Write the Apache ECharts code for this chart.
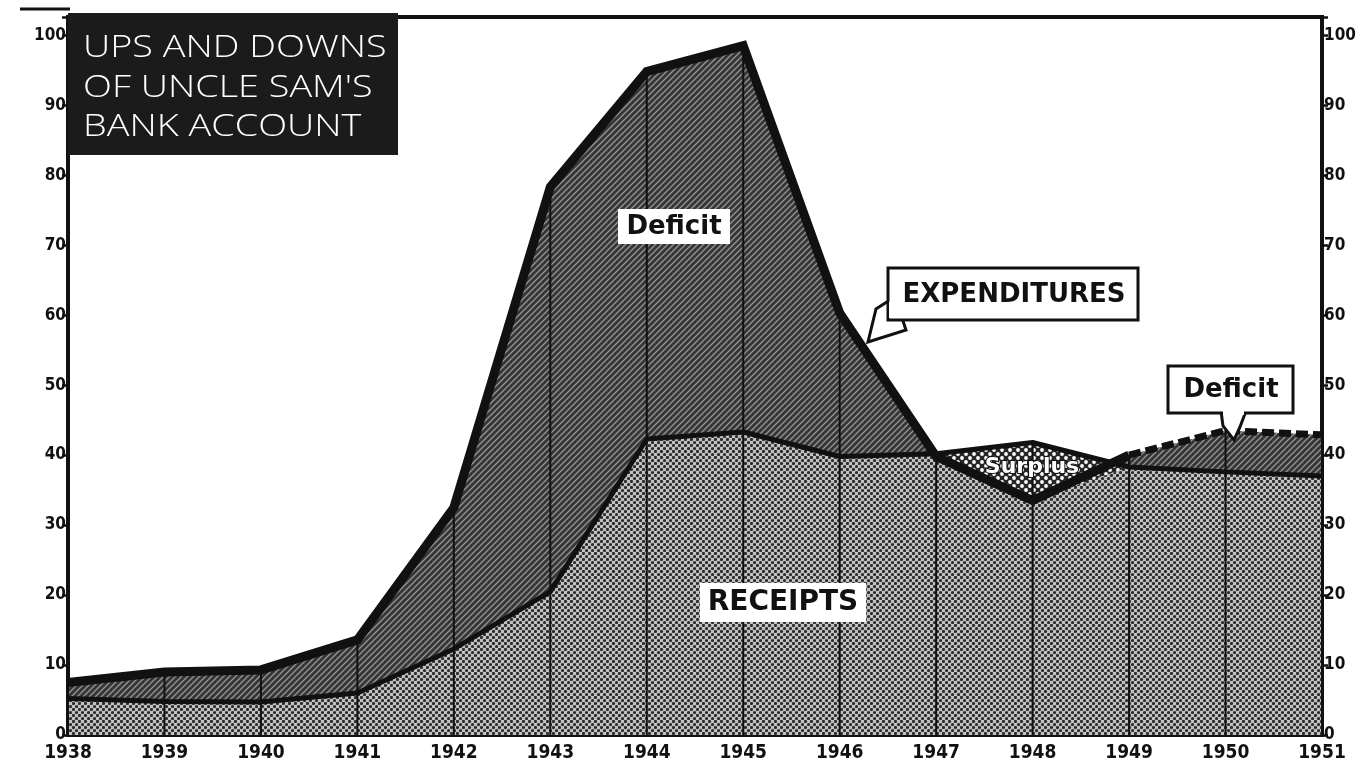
<!DOCTYPE html>
<html>
<head>
<meta charset="utf-8">
<title>Ups and downs of Uncle Sam's bank account</title>
<script src="https://cdn.jsdelivr.net/npm/echarts@6/dist/echarts.min.js"></script>
<style>
html,body{margin:0;padding:0;background:#fff;}
#chart{width:1362px;height:772px;}
</style>
</head>
<body>
<div id="chart"></div>
<script>
// data (billions of dollars)
var years = ['1938','1939','1940','1941','1942','1943','1944','1945','1946','1947','1948','1949','1950','1951'];
var expenditures = [7.5, 9.0, 9.3, 13.6, 32.5, 78.3, 94.8, 98.5, 60.3, 39.8, 33.5, 40.0, 43.5, 42.9];
var receipts = [5.2, 4.8, 4.7, 6.0, 12.3, 20.5, 42.3, 43.3, 39.8, 40.2, 41.8, 38.3, 37.6, 37.0];
var projectedFrom = '1949';   // expenditures dashed from here on
var yTickLabels = [0, 10, 20, 30, 40, 50, 60, 70, 80, 90, 100];
var yMax = 102.6;

// derived series
var lower = receipts.map(function(r, i){ return Math.min(r, expenditures[i]); });
var upper = receipts.map(function(r, i){ return Math.max(r, expenditures[i]); });
var projStart = years.indexOf(projectedFrom);
var expSolid = expenditures.map(function(v, i){ return i <= projStart ? v : null; });
var expDash = expenditures.map(function(v, i){ return i >= projStart ? v : null; });

// fill patterns
function hatch() {
    var c = document.createElement('canvas'); c.width = 6; c.height = 6;
    var g = c.getContext('2d');
    g.fillStyle = '#363636'; g.fillRect(0, 0, 6, 6);
    g.strokeStyle = '#969696'; g.lineWidth = 1.3;
    g.beginPath();
    g.moveTo(0, 6); g.lineTo(6, 0);
    g.moveTo(-3, 3); g.lineTo(3, -3);
    g.moveTo(3, 9); g.lineTo(9, 3);
    g.stroke();
    return c;
}
function dots(bg, fg, size, r) {
    var c = document.createElement('canvas'); c.width = size; c.height = size;
    var g = c.getContext('2d');
    g.fillStyle = bg; g.fillRect(0, 0, size, size);
    g.fillStyle = fg;
    [[size/4, size/4], [size*3/4, size*3/4]].forEach(function(p){
        g.beginPath(); g.arc(p[0], p[1], r, 0, Math.PI*2); g.fill();
    });
    return c;
}
var hatchFill = {image: hatch(), repeat: 'repeat'};
var receiptFill = {image: dots('#c2c2c2', '#2e2e2e', 6, 1.6), repeat: 'repeat'};
var surplusFill = {image: dots('#262626', '#ffffff', 8, 1.9), repeat: 'repeat'};

var numFont = "'DejaVu Sans Condensed', 'Liberation Sans', sans-serif";
var tagFont = 'bold 26px "DejaVu Sans"';

function yAxis(pos) {
    return {
        type: 'value', position: pos, min: 0, max: yMax, interval: 10,
        axisLine: {show: true, lineStyle: {color: '#111', width: 4}},
        axisTick: {show: true, length: 6, lineStyle: {color: '#111', width: 2.5}},
        splitLine: {show: false},
        axisLabel: {
            margin: 2, fontFamily: numFont, fontWeight: 'bold', fontSize: 17, color: '#111',
            formatter: function(v){ return yTickLabels.indexOf(v) >= 0 ? String(v) : ''; }
        }
    };
}

var myChart = echarts.init(document.getElementById('chart'));
var option = {
    animation: false,
    backgroundColor: '#fff',
    grid: {left: 68, right: 40, top: 17, bottom: 37, show: true, borderColor: '#111', borderWidth: 4},
    xAxis: {
        type: 'category', data: years, boundaryGap: false,
        axisLine: {lineStyle: {color: '#111', width: 4}},
        axisTick: {show: false},
        axisLabel: {margin: 9, interval: 0, fontFamily: numFont, fontWeight: 'bold', fontSize: 19, color: '#111'}
    },
    yAxis: [yAxis('left'), yAxis('right')],
    series: [
        {type: 'line', data: expenditures, symbol: 'none', lineStyle: {width: 0}, areaStyle: {color: hatchFill, opacity: 1}, z: 1},
        {type: 'line', data: receipts, symbol: 'none', lineStyle: {width: 0}, areaStyle: {color: surplusFill, opacity: 1}, z: 2},
        {type: 'line', data: lower, symbol: 'none', lineStyle: {width: 0}, areaStyle: {color: receiptFill, opacity: 1}, z: 3},
        // vertical year rules inside the filled area
        {type: 'bar', data: upper, barWidth: 2, itemStyle: {color: '#111'}, z: 4},
        {type: 'line', data: receipts, symbol: 'none', lineStyle: {color: '#111', width: 5}, z: 5},
        {type: 'line', data: expSolid, symbol: 'none', lineStyle: {color: '#111', width: 9, join: 'miter'}, z: 6},
        {type: 'line', data: expDash, symbol: 'none', lineStyle: {color: '#111', width: 7, type: [12, 5]}, z: 6}
    ],
    graphic: [
        {type: 'line', shape: {x1: 20, y1: 9, x2: 70, y2: 9}, style: {stroke: '#111', lineWidth: 3}},
        {type: 'rect', shape: {x: 68, y: 13, width: 330, height: 142}, style: {fill: '#1b1b1b'}, z: 100},
        {type: 'text', x: 83, y: 48, scaleX: 1.22, z: 101, style: {text: 'UPS AND DOWNS', fill: '#fff', font: '300 31px "Open Sans"', textVerticalAlign: 'middle'}},
        {type: 'text', x: 83, y: 88, scaleX: 1.22, z: 101, style: {text: "OF UNCLE SAM'S", fill: '#fff', font: '300 31px "Open Sans"', textVerticalAlign: 'middle'}},
        {type: 'text', x: 83, y: 127, scaleX: 1.22, z: 101, style: {text: 'BANK ACCOUNT', fill: '#fff', font: '300 31px "Open Sans"', textVerticalAlign: 'middle'}},

        // Deficit (war years)
        {type: 'rect', shape: {x: 618, y: 209, width: 112, height: 35}, style: {fill: '#fff'}, z: 100},
        {type: 'text', x: 674, y: 227, z: 101, style: {text: 'Deficit', fill: '#111', font: tagFont, textAlign: 'center', textVerticalAlign: 'middle'}},

        // RECEIPTS
        {type: 'rect', shape: {x: 700, y: 583, width: 166, height: 39}, style: {fill: '#fff'}, z: 100},
        {type: 'text', x: 783, y: 603, z: 101, style: {text: 'RECEIPTS', fill: '#111', font: 'bold 28px "DejaVu Sans"', textAlign: 'center', textVerticalAlign: 'middle'}},

        // EXPENDITURES callout
        {type: 'polygon', shape: {points: [[890, 300], [876, 309], [868, 342], [906, 330], [902, 318]]}, style: {fill: '#fff', stroke: '#111', lineWidth: 3}, z: 99},
        {type: 'rect', shape: {x: 888, y: 268, width: 250, height: 52}, style: {fill: '#fff', stroke: '#111', lineWidth: 3}, z: 100},
        {type: 'rect', shape: {x: 889, y: 302, width: 16, height: 16}, style: {fill: '#fff'}, z: 100},
        {type: 'text', x: 1014, y: 295, z: 101, style: {text: 'EXPENDITURES', fill: '#111', font: tagFont, textAlign: 'center', textVerticalAlign: 'middle'}},

        // Deficit callout (postwar)
        {type: 'polygon', shape: {points: [[1221, 411], [1223, 426], [1234, 440], [1240, 427], [1246, 411]]}, style: {fill: '#fff', stroke: '#111', lineWidth: 3}, z: 99},
        {type: 'rect', shape: {x: 1168, y: 366, width: 125, height: 47}, style: {fill: '#fff', stroke: '#111', lineWidth: 3}, z: 100},
        {type: 'rect', shape: {x: 1223, y: 409, width: 21, height: 6}, style: {fill: '#fff'}, z: 100},
        {type: 'text', x: 1231, y: 390, z: 101, style: {text: 'Deficit', fill: '#111', font: tagFont, textAlign: 'center', textVerticalAlign: 'middle'}},

        // Surplus
        {type: 'text', x: 1032, y: 467, z: 101, style: {text: 'Surplus', fill: '#fff', stroke: '#111', lineWidth: 2, font: 'bold 22px "DejaVu Sans"', textAlign: 'center', textVerticalAlign: 'middle'}}
    ]
};
myChart.setOption(option);
</script>
</body>
</html>
